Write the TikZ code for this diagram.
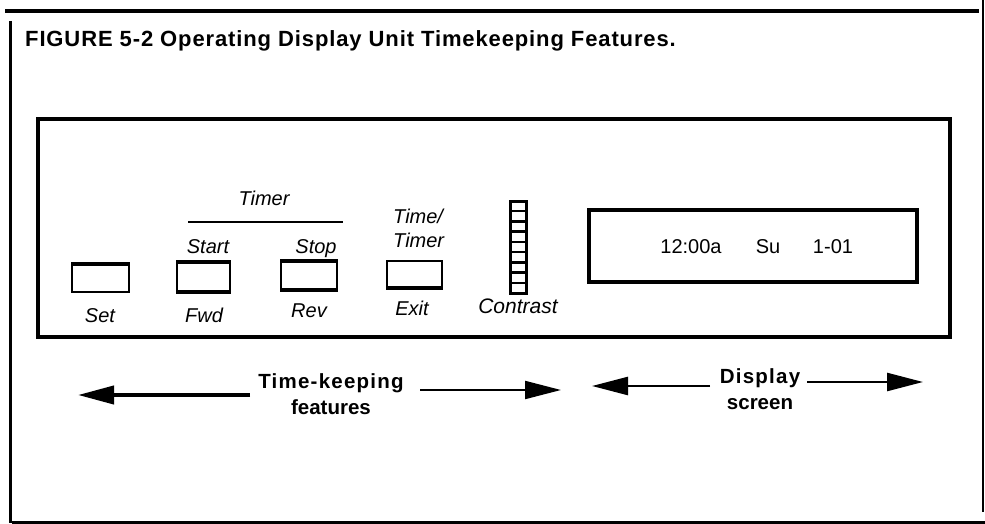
\documentclass[tikz,border=0pt]{standalone}
\usepackage{fontspec}
\setmainfont{Liberation Sans}
\usetikzlibrary{arrows.meta}
\begin{document}
\begin{tikzpicture}[x=1pt,y=-1pt,
  btn/.style={draw,line width=2pt,inner sep=0pt,minimum width=#1,minimum height=27pt},
  lab/.style={anchor=base,inner sep=0pt,font=\fontsize{20}{22}\selectfont\itshape},
  disp/.style={anchor=base,inner sep=0pt,font=\fontsize{20}{22}\selectfont},
  bold/.style={inner sep=0pt,align=center,font=\fontsize{20.5}{25.5}\selectfont\bfseries},
  thk/.style={line width=4pt},
  arr/.style={-{Triangle[length=36pt,width=18pt]}}]
\useasboundingbox (0,0) rectangle (985,524);
% outer frame
\draw[line width=3.5pt] (5,11) -- (979,11);
\draw[line width=2pt] (983,0) -- (983,512);
\draw[line width=3pt] (10,21) -- (10,523);
\draw[line width=3pt] (12,522) -- (985,522);
% title
\node[anchor=base west,inner sep=0pt,font=\fontsize{22}{24}\selectfont\bfseries] (title) at (25,47) {\addfontfeature{LetterSpace=4}FIGURE 5-2 Operating Display Unit Timekeeping Features.};
% panel
\draw[line width=4pt] (38,119) rectangle (950,337);
% buttons
\node[btn=57pt] (set) at (100.5,278.5) {};
\node[btn=53pt,minimum height=28pt] (fwd) at (203.5,277) {};
\node[btn=56pt] (rev) at (309,275.5) {};
\node[btn=55pt,minimum height=26pt] (exit) at (414.5,274) {};
\draw[thk] (set.north west) -- (set.north east);
\draw[thk] (fwd.north west) -- (fwd.north east);
\draw[thk] (fwd.south west) -- (fwd.south east);
\draw[thk] (rev.north west) -- (rev.north east);
\draw[thk] (rev.south west) -- (rev.south east);
\draw[thk] (exit.south west) -- (exit.south east);
% labels
\node[lab] (lset) at (100,322) {Set};
\node[lab] (lfwd) at (204,322) {Fwd};
\node[lab] (lrev) at (309,317) {Rev};
\node[lab] (lexit) at (412,315) {Exit};
\node[lab] (lstart) at (208,253) {Start};
\node[lab] (lstop) at (316,253) {Stop};
\node[lab] (ltimer) at (264,205.5) {Timer};
\node[lab,anchor=base west] (ltime1) at (393,223) {Time/};
\node[lab,anchor=base west] (ltime2) at (393,247) {Timer};
\coordinate (tl1) at (188,222);
\coordinate (tl2) at (343,222);
\draw[line width=2pt] (tl1) -- (tl2);
% contrast slider
\node[draw,line width=3pt,inner sep=0pt,minimum width=16pt,minimum height=92pt] (slider) at (518.5,247) {};
\foreach \i in {1,...,8}{
  \draw[line width=2.5pt] (510,{201+\i*92/9}) -- (527,{201+\i*92/9});
}
\node[lab,font=\fontsize{21}{22}\selectfont\itshape] (lcontrast) at (518,313) {Contrast};
% display screen
\node[draw,line width=3.5pt,inner sep=0pt,minimum width=328pt,minimum height=72pt] (screen) at (753,246) {};
\node[disp] (t1) at (691,253) {12:00a};
\node[disp] (t2) at (768,253) {Su};
\node[disp] (t3) at (833,253) {1-01};
% arrows
\node[bold] (tk) at (331,394) {\addfontfeature{LetterSpace=6}Time-keeping\\features};
\node[bold] (ds) at (760,389) {\addfontfeature{LetterSpace=6}Display\\screen};
\coordinate (a1s) at (250,395);
\coordinate (a1e) at (78,395);
\coordinate (a2s) at (420,390);
\coordinate (a2e) at (561,390);
\coordinate (a3s) at (710,386);
\coordinate (a3e) at (592,386);
\coordinate (a4s) at (807,382);
\coordinate (a4e) at (923,382);
\draw[arr,line width=4pt] (a1s) -- (a1e);
\draw[arr,line width=2pt] (a2s) -- (a2e);
\draw[arr,line width=2.5pt] (a3s) -- (a3e);
\draw[arr,line width=2.5pt] (a4s) -- (a4e);
\end{tikzpicture}
\end{document}
